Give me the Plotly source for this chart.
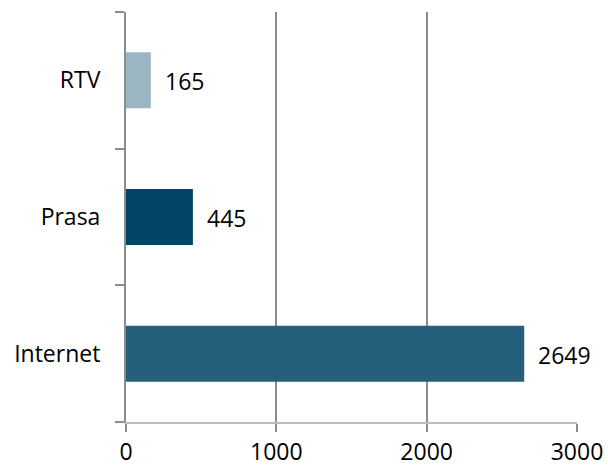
import plotly.graph_objects as go

categories = ["Internet", "Prasa", "RTV"]
values = [2649, 445, 165]
colors = ["#255F7B", "#004466", "#9BB5C2"]
x_ticks = [0, 1000, 2000, 3000]

FONT = "Open Sans"

fig = go.Figure()
fig.add_trace(go.Bar(
    x=values, y=categories, orientation="h",
    marker=dict(color=colors, line=dict(width=0)),
    width=0.41, hoverinfo="skip",
))

for c, v in zip(categories, values):
    fig.add_annotation(
        x=v, y=c, xref="x", yref="y", text=str(v), showarrow=False,
        xanchor="left", yanchor="middle", xshift=12, yshift=-1, bgcolor="white",
        font=dict(family=FONT, size=23, color="black"),
    )

fig.update_layout(
    width=608, height=469,
    margin=dict(l=126, r=31, t=12, b=47),
    plot_bgcolor="white", paper_bgcolor="white",
    showlegend=False,
    font=dict(family=FONT, size=23, color="black"),
    xaxis=dict(
        range=[0, 3000], tickvals=x_ticks, ticktext=[str(t) for t in x_ticks],
        showgrid=True, gridcolor="#8C8C8C", gridwidth=1.5,
        showline=True, linecolor="#BDBDBD", linewidth=2,
        ticks="outside", ticklen=8, tickcolor="#8C8C8C", tickwidth=1.5,
        zeroline=False, fixedrange=True, automargin=False,
    ),
    yaxis=dict(
        categoryorder="array", categoryarray=categories,
        range=[-0.5, 2.5],
        showline=True, linecolor="#8C8C8C", linewidth=2,
        ticks="outside", ticklen=9, tickcolor="#8C8C8C", tickwidth=2,
        tickson="boundaries", showgrid=False,
        ticklabelstandoff=19, zeroline=False, fixedrange=True, automargin=False,
    ),
)

fig.write_html(
    "out.html",
    config={"displayModeBar": False},
    post_script="document.body.style.margin='0px';document.body.style.overflow='hidden';",
)
